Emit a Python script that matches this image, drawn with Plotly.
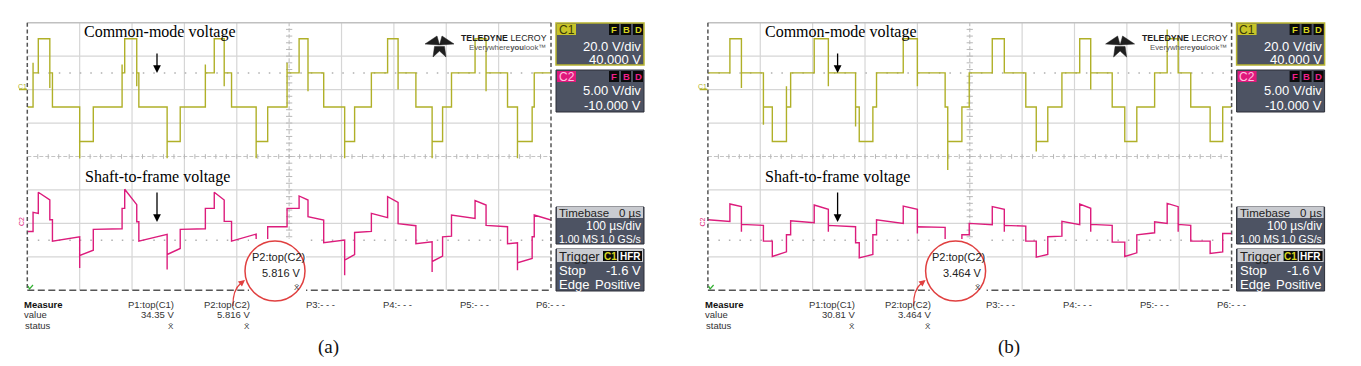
import plotly.graph_objects as go

W, H = 1361, 366

# ---------------- data (time in us, 100 us/div; level in screen divisions, 0=bottom, 8=top) -------------
# (a) common-mode voltage C1
cm_a_t = [0, 11, 21, 43, 48, 100, 126, 181, 186, 209, 213, 267, 292, 340, 357, 376, 390, 437, 459, 496,
          519, 536, 566, 606, 625, 657, 688, 708, 742, 773, 793, 810, 855, 876, 917, 936, 964, 968]
cm_a_v = [5.48, 6.5, 7.52, 6.5, 5.48, 4.45, 5.48, 6.5, 7.52, 6.5, 5.48, 4.45, 5.48, 6.5, 7.52, 6.5, 5.48, 4.45, 5.48, 6.5,
          7.52, 6.5, 5.48, 4.45, 5.48, 6.5, 7.52, 6.5, 5.48, 4.45, 5.48, 6.5, 7.52, 6.5, 5.48, 4.45, 5.48, 6.5]
cm_a_spk = [None, 6.8, None, 6.05, None, 3.95, None, 6.75, None, 6.1, None, 3.95, None, 6.75, None, 6.1, None, 3.95, None, 6.8,
            None, 5.95, None, 3.95, None, None, None, 6.0, None, 3.95, None, None, None, 5.95, None, 3.95, None, None]
# (a) shaft-to-frame voltage C2 : level at start / end of each interval
sv_a_t = cm_a_t
sv_a_v0 = [1.76, 2.33, 2.93, 2.11, 1.47, 1.04, 1.82, 2.45, 3.02, 2.05, 1.47, 1.07, 1.82, 2.45, 2.93, 2.06, 1.47, 1.08, 1.90, 2.45,
           2.82, 2.20, 1.42, 0.90, 1.73, 2.30, 2.80, 1.99, 1.39, 0.86, 1.60, 2.25, 2.68, 1.94, 1.39, 0.82, 1.60, 2.25]
sv_a_v1 = [1.76, 2.30, 2.70, 2.11, 1.60, 1.20, 1.84, 2.45, 2.56, 2.05, 1.67, 1.25, 1.84, 2.45, 2.70, 2.06, 1.68, 1.20, 1.90, 2.45,
           2.70, 2.10, 1.50, 1.07, 1.76, 2.17, 2.63, 1.93, 1.45, 1.02, 1.62, 2.15, 2.55, 1.90, 1.42, 0.95, 1.60, 2.10]
sv_a_spk = [None, None, None, None, None, 0.67, None, None, None, None, None, 0.62, None, None, None, None, None, 0.6, None, None,
            None, None, None, 0.45, None, None, None, None, None, 0.55, None, None, None, None, None, 0.6, None, None]

# (b) common-mode voltage C1
cm_b_t = [0, 42, 64, 106, 123, 150, 158, 203, 230, 282, 289, 315, 322, 373, 400, 453, 458, 485, 499, 543,
          566, 607, 627, 649, 676, 710, 731, 772, 796, 819, 853, 877, 898, 922, 959, 983]
cm_b_v = [6.5, 7.52, 6.5, 5.48, 4.45, 5.48, 6.5, 7.52, 6.5, 5.48, 4.45, 5.48, 6.5, 7.52, 6.5, 5.48, 4.45, 5.48, 6.5, 7.52,
          6.5, 5.48, 4.45, 5.48, 6.5, 7.52, 6.5, 5.48, 4.45, 5.48, 6.5, 7.52, 6.5, 5.48, 4.45, 5.48]
cm_b_spk = [None, None, 6.05, 4.95, None, 6.1, None, None, 6.1, 4.9, None, None, None, None, 6.1, None, 3.6, None, None, None,
            None, None, 4.15, None, None, None, 6.0, None, None, None, None, 7.8, None, None, None, None]
# (b) shaft-to-frame voltage C2
sv_b_t = cm_b_t
sv_b_v0 = [2.11, 2.58, 1.97, 1.47, 1.01, 1.66, 2.08, 2.55, 1.94, 1.42, 0.97, 1.66, 2.11, 2.52, 1.90, 1.42, 0.97, 1.66, 2.00, 2.50,
           1.94, 1.47, 0.99, 1.60, 2.06, 2.58, 1.97, 1.44, 1.01, 1.66, 2.05, 2.60, 1.97, 1.47, 1.10, 1.70]
sv_b_v1 = [2.06, 2.50, 1.94, 1.47, 1.15, 1.66, 2.02, 2.42, 1.90, 1.42, 1.07, 1.66, 2.00, 2.42, 1.88, 1.42, 1.07, 1.66, 1.96, 2.42,
           1.92, 1.47, 1.07, 1.62, 1.96, 2.45, 1.94, 1.44, 1.12, 1.72, 2.00, 2.50, 1.94, 1.47, 1.15, 1.70]
sv_b_spk = [None, None, 1.75, None, None, None, None, None, 1.75, None, None, None, None, None, 1.7, None, None, None, None, None,
            1.75, None, None, None, None, None, 1.75, None, None, None, None, None, 1.75, None, None, None]

# readouts
panel_tags = ["(a)", "(b)"]
p1_values = ["34.35 V", "30.81 V"]
p2_values = ["5.816 V", "3.464 V"]
circle_values = ["5.816 V", "3.464 V"]

C1_COL = "#b0b028"
C2_COL = "#dc1c7c"
SANS = "Liberation Sans, Arial, sans-serif"
SERIF = "Liberation Serif, Times New Roman, serif"


def build(t, v0, v1, spk, t_end=1000):
    xs, ys = [], []
    for i in range(len(t)):
        if i > 0:
            xs.append(t[i]); ys.append(v1[i - 1])
            if spk[i] is not None:
                xs.append(t[i]); ys.append(spk[i])
        xs.append(t[i]); ys.append(v0[i])
    xs.append(t_end); ys.append(v1[-1])
    return xs, ys


def X(px):
    return px / W


def Y(py):
    return 1 - py / H


fig = go.Figure()
shapes, ann = [], []

GX0, GX1, GY0, GY1 = 27.3, 551.0, 22.7, 290.3
DX = 680.6

panels = [
    dict(xa="x", ya="y", cm=(cm_a_t, cm_a_v, cm_a_v, cm_a_spk), sv=(sv_a_t, sv_a_v0, sv_a_v1, sv_a_spk)),
    dict(xa="x2", ya="y2", cm=(cm_b_t, cm_b_v, cm_b_v, cm_b_spk), sv=(sv_b_t, sv_b_v0, sv_b_v1, sv_b_spk)),
]

for k, p in enumerate(panels):
    off = k * DX
    xr, yr = p["xa"], p["ya"]
    # grid lines
    for i in range(1, 10):
        if i == 5:
            continue
        shapes.append(dict(type="line", xref=xr, yref=yr, x0=i * 100, x1=i * 100, y0=0, y1=8,
                           line=dict(color="#d6d6d6", width=1.2), layer="below"))
    for j in range(1, 8):
        if j == 4:
            continue
        shapes.append(dict(type="line", xref=xr, yref=yr, x0=0, x1=1000, y0=j, y1=j,
                           line=dict(color="#d6d6d6", width=1.2), layer="below"))
    # center lines with ticks
    shapes.append(dict(type="line", xref=xr, yref=yr, x0=500, x1=500, y0=0, y1=8,
                       line=dict(color="#c4c4c4", width=1.2, dash="4px,2px"), layer="below"))
    shapes.append(dict(type="line", xref=xr, yref=yr, x0=0, x1=1000, y0=4, y1=4,
                       line=dict(color="#c4c4c4", width=1.2, dash="4px,2px"), layer="below"))
    path = ""
    for i in range(1, 50):
        tt = i * 20
        path += f"M{tt},3.93 L{tt},4.07 "
    for j in range(1, 40):
        yy = j * 0.2
        path += f"M494,{yy:.2f} L506,{yy:.2f} "
    shapes.append(dict(type="path", xref=xr, yref=yr, path=path, line=dict(color="#b8b8b8", width=1), layer="below"))
    # dotted reference lines
    for yy in (6.5, 1.5):
        shapes.append(dict(type="line", xref=xr, yref=yr, x0=0, x1=1000, y0=yy, y1=yy,
                           line=dict(color="#b0b0b0", width=1.5, dash="1.5px,9px"), layer="below"))
    # borders
    shapes.append(dict(type="line", xref="paper", yref="paper", x0=X(GX0 + off), x1=X(GX1 + off), y0=Y(GY0), y1=Y(GY0),
                       line=dict(color="#c0c0c0", width=1.5)))
    shapes.append(dict(type="line", xref="paper", yref="paper", x0=X(GX0 + off), x1=X(GX1 + off), y0=Y(GY1), y1=Y(GY1),
                       line=dict(color="#555555", width=1.5, dash="7px,3.5px")))
    for gx in (GX0, GX1):
        shapes.append(dict(type="line", xref="paper", yref="paper", x0=X(gx + off), x1=X(gx + off), y0=Y(GY0), y1=Y(GY1),
                           line=dict(color="#555555", width=1.5, dash="4px,2.7px")))

    # traces
    cx, cy = build(*p["cm"])
    sx, sy = build(*p["sv"])
    fig.add_trace(go.Scatter(x=cx, y=cy, mode="lines", line=dict(color=C1_COL, width=1.4),
                             xaxis=xr, yaxis=yr, hoverinfo="skip", showlegend=False))
    fig.add_trace(go.Scatter(x=sx, y=sy, mode="lines", line=dict(color=C2_COL, width=1.4),
                             xaxis=xr, yaxis=yr, hoverinfo="skip", showlegend=False))

    # channel markers at left of grid
    ann.append(dict(x=X(22 + off), y=Y(86), text="C1", font=dict(size=7, color=C1_COL, family=SANS)))
    shapes.append(dict(type="line", xref="paper", yref="paper", x0=X(19 + off), x1=X(27 + off), y0=Y(89.5), y1=Y(89.5),
                       line=dict(color=C1_COL, width=1.5)))
    ann.append(dict(x=X(21 + off), y=Y(222), text="C2", textangle=-90, font=dict(size=7, color=C2_COL, family=SANS)))
    # trigger marker
    shapes.append(dict(type="path", xref="paper", yref="paper",
                       path=f"M{X(285.5+off)},{Y(294)} L{X(292.5+off)},{Y(294)} L{X(289+off)},{Y(289)} Z",
                       fillcolor="#c8c020", line=dict(color="#c8c020", width=1)))
    shapes.append(dict(type="path", xref="paper", yref="paper",
                       path=f"M{X(28+off)},{Y(286)} L{X(29.5+off)},{Y(289)} L{X(33+off)},{Y(285)}",
                       line=dict(color="#30b030", width=1.2)))

    # annotations text on plot
    ann.append(dict(x=X(160 + off), y=Y(32), text="Common-mode voltage", font=dict(size=16, color="#000", family=SERIF)))
    ann.append(dict(x=X(157 + off), y=Y(73), ax=0, ay=-21, text="",
                    showarrow=True, arrowhead=2, arrowsize=1.2, arrowwidth=1.3, arrowcolor="#000"))
    ann.append(dict(x=X(157 + off), y=Y(177), text="Shaft-to-frame voltage", font=dict(size=16, color="#000", family=SERIF)))
    ann.append(dict(x=X(157 + off), y=Y(222), ax=0, ay=-31, text="",
                    showarrow=True, arrowhead=2, arrowsize=1.2, arrowwidth=1.3, arrowcolor="#000"))

    # logo
    lx = 425 + off
    logo = (f"M{X(lx)},{Y(44)} L{X(lx+12)},{Y(36)} L{X(lx+14.5)},{Y(45)} Z "
            f"M{X(lx+29)},{Y(44)} L{X(lx+17)},{Y(36)} L{X(lx+14.5)},{Y(45)} Z "
            f"M{X(lx+9.5)},{Y(46.5)} L{X(lx+19.5)},{Y(46.5)} L{X(lx+21)},{Y(57)} L{X(lx+14.5)},{Y(51)} L{X(lx+8)},{Y(57)} Z")
    shapes.append(dict(type="path", xref="paper", yref="paper", path=logo, fillcolor="#1e1e1e",
                       line=dict(color="#1e1e1e", width=0.5)))
    ann.append(dict(x=X(549 + off), y=Y(38), xanchor="right", text="<b>TELEDYNE</b> LECROY",
                    font=dict(size=8.8, color="#1e1e1e", family=SANS)))
    ann.append(dict(x=X(548 + off), y=Y(47.5), xanchor="right", text="Everywhere<b>you</b>look\u2122",
                    font=dict(size=7.8, color="#555", family=SANS)))

    # measurement label (white backing hides trace), circle and text
    shapes.append(dict(type="rect", xref="paper", yref="paper", x0=X(249 + off), x1=X(306 + off),
                       y0=Y(297), y1=Y(239), fillcolor="white", line=dict(width=0)))
    shapes.append(dict(type="circle", xref="paper", yref="paper", x0=X(245 + off), x1=X(305 + off),
                       y0=Y(301), y1=Y(241), line=dict(color="#e04040", width=1.5)))
    ann.append(dict(x=X(278 + off), y=Y(257), text="P2:top(C2)", font=dict(size=11, color="#222", family=SANS)))
    ann.append(dict(x=X(303 + off), y=Y(273), xanchor="right", text=circle_values[k], font=dict(size=11, color="#222", family=SANS)))
    ann.append(dict(x=X(297 + off), y=Y(287), text="X\u0304", font=dict(size=8, color="#333", family=SANS)))
    shapes.append(dict(type="path", xref="paper", yref="paper",
                       path=f"M{X(233+off)},{Y(306)} Q{X(232.5+off)},{Y(290)} {X(241+off)},{Y(283)}",
                       line=dict(color="#e04040", width=1.3)))
    ann.append(dict(x=X(245 + off), y=Y(280), ax=-5, ay=4, text="",
                    showarrow=True, arrowhead=2, arrowsize=1, arrowwidth=1.3, arrowcolor="#e04040"))

    # ---------- info boxes on the right ----------
    bx0, bx1 = 556 + off, 644 + off

    def box(y0, y1, border="#2c2f38", bw=1):
        shapes.append(dict(type="rect", xref="paper", yref="paper", x0=X(bx0), x1=X(bx1), y0=Y(y1), y1=Y(y0),
                           fillcolor="#4d5363", line=dict(color=border, width=bw)))
    box(23, 65, border="#b8b430", bw=1.5)
    box(70, 112)
    box(207, 244)
    box(249, 291)
    # header strips
    for (h0, h1) in ((207, 218), (249, 262)):
        shapes.append(dict(type="rect", xref="paper", yref="paper", x0=X(bx0 + 1), x1=X(bx1 - 1), y0=Y(h1), y1=Y(h0),
                           fillcolor="#c9cbd0", line=dict(width=0)))
    # channel label chips
    shapes.append(dict(type="rect", xref="paper", yref="paper", x0=X(bx0 + 1), x1=X(bx0 + 20), y0=Y(35), y1=Y(24),
                       fillcolor="#c8c428", line=dict(width=0)))
    shapes.append(dict(type="rect", xref="paper", yref="paper", x0=X(bx0 + 1), x1=X(bx0 + 20), y0=Y(82), y1=Y(71),
                       fillcolor="#e0187c", line=dict(width=0)))
    ann.append(dict(x=X(bx0 + 10.5), y=Y(29.5), text="C1", font=dict(size=12, color="#3a3a08", family=SANS)))
    ann.append(dict(x=X(bx0 + 10.5), y=Y(76.5), text="C2", font=dict(size=12, color="#ffc0e0", family=SANS)))
    for yy, col in ((29.5, "#d8d420"), (76.5, "#f0208a")):
        for n, letter in enumerate("FBD"):
            cxp = bx0 + 58 + n * 12
            shapes.append(dict(type="rect", xref="paper", yref="paper", x0=X(cxp - 5), x1=X(cxp + 5),
                               y0=Y(yy + 5.5), y1=Y(yy - 5.5), fillcolor="#0a0a0a", line=dict(width=0)))
            ann.append(dict(x=X(cxp), y=Y(yy), text=f"<b>{letter}</b>", font=dict(size=9.5, color=col, family=SANS)))
    ann.append(dict(x=X(bx1 - 1), y=Y(46), xanchor="right", text="20.0 V/div", font=dict(size=13, color="#fff", family=SANS)))
    ann.append(dict(x=X(bx1 - 1), y=Y(59.5), xanchor="right", text="40.000 V", font=dict(size=13, color="#fff", family=SANS)))
    ann.append(dict(x=X(bx1 - 1), y=Y(91), xanchor="right", text="5.00 V/div", font=dict(size=13, color="#fff", family=SANS)))
    ann.append(dict(x=X(bx1 - 1), y=Y(105), xanchor="right", text="-10.000 V", font=dict(size=13, color="#fff", family=SANS)))
    # timebase
    ann.append(dict(x=X(bx0 + 1), y=Y(212.5), xanchor="left", text="Timebase", font=dict(size=11.5, color="#222", family=SANS)))
    ann.append(dict(x=X(bx1 - 1), y=Y(212.5), xanchor="right", text="0 µs", font=dict(size=11.5, color="#222", family=SANS)))
    ann.append(dict(x=X(bx1 - 1), y=Y(226), xanchor="right", text="100 µs/div", font=dict(size=12, color="#fff", family=SANS)))
    ann.append(dict(x=X(bx0 + 1), y=Y(238.5), xanchor="left", text="1.00 MS", font=dict(size=10.5, color="#fff", family=SANS)))
    ann.append(dict(x=X(bx1 - 1), y=Y(238.5), xanchor="right", text="1.0 GS/s", font=dict(size=10.5, color="#fff", family=SANS)))
    # trigger
    ann.append(dict(x=X(bx0 + 1), y=Y(256), xanchor="left", text="Trigger", font=dict(size=13, color="#222", family=SANS)))
    shapes.append(dict(type="rect", xref="paper", yref="paper", x0=X(bx0 + 47), x1=X(bx0 + 61), y0=Y(261), y1=Y(251),
                       fillcolor="#0a0a0a", line=dict(width=0)))
    shapes.append(dict(type="rect", xref="paper", yref="paper", x0=X(bx0 + 62.5), x1=X(bx0 + 86), y0=Y(261), y1=Y(251),
                       fillcolor="#0a0a0a", line=dict(width=0)))
    ann.append(dict(x=X(bx0 + 54), y=Y(256), text="<b>C1</b>", font=dict(size=10, color="#d8d420", family=SANS)))
    ann.append(dict(x=X(bx0 + 74.2), y=Y(256), text="<b>HFR</b>", font=dict(size=10, color="#ffffff", family=SANS)))
    ann.append(dict(x=X(bx0 + 1), y=Y(270.5), xanchor="left", text="Stop", font=dict(size=13, color="#fff", family=SANS)))
    ann.append(dict(x=X(bx1 - 1), y=Y(270.5), xanchor="right", text="-1.6 V", font=dict(size=13, color="#fff", family=SANS)))
    ann.append(dict(x=X(bx0 + 1), y=Y(284), xanchor="left", text="Edge", font=dict(size=13, color="#fff", family=SANS)))
    ann.append(dict(x=X(bx1 - 1), y=Y(284), xanchor="right", text="Positive", font=dict(size=13, color="#fff", family=SANS)))

    # ---------- measure table ----------
    mf = dict(size=9.5, color="#333", family=SANS)
    ann.append(dict(x=X(22 + off), y=Y(304), xanchor="left", text="<b>Measure</b>", font=dict(mf, color="#111")))
    ann.append(dict(x=X(22 + off), y=Y(314.5), xanchor="left", text="value", font=mf))
    ann.append(dict(x=X(23 + off), y=Y(325), xanchor="left", text="status", font=mf))
    ann.append(dict(x=X(176 + off), y=Y(304), xanchor="right", text="P1:top(C1)", font=mf))
    ann.append(dict(x=X(176 + off), y=Y(314.5), xanchor="right", text=p1_values[k], font=mf))
    ann.append(dict(x=X(171 + off), y=Y(326), text="X\u0304", font=dict(size=8, color="#333", family=SANS)))
    ann.append(dict(x=X(252 + off), y=Y(304), xanchor="right", text="P2:top(C2)", font=mf))
    ann.append(dict(x=X(252 + off), y=Y(314.5), xanchor="right", text=p2_values[k], font=mf))
    ann.append(dict(x=X(247 + off), y=Y(326), text="X\u0304", font=dict(size=8, color="#333", family=SANS)))
    for lbl, px_ in (("P3:- - -", 303.5), ("P4:- - -", 380.7), ("P5:- - -", 457.5), ("P6:- - -", 534)):
        ann.append(dict(x=X(px_ + off), y=Y(304), xanchor="left", text=lbl, font=mf))
    ann.append(dict(x=X(328 + off), y=Y(347), text=panel_tags[k], font=dict(size=19, color="#111", family=SERIF)))

for a in ann:
    a.setdefault("xref", "paper")
    a.setdefault("yref", "paper")
    a.setdefault("showarrow", False)
    a.setdefault("xanchor", "center")
    a.setdefault("yanchor", "middle")

dom_y = [Y(GY1), Y(GY0)]
fig.update_layout(
    width=W, height=H, margin=dict(l=0, r=0, t=0, b=0),
    paper_bgcolor="white", plot_bgcolor="white", showlegend=False,
    xaxis=dict(domain=[X(GX0), X(GX1)], range=[0, 1000], visible=False, fixedrange=True),
    yaxis=dict(domain=dom_y, range=[0, 8], visible=False, fixedrange=True, anchor="x"),
    xaxis2=dict(domain=[X(GX0 + DX), X(GX1 + DX)], range=[0, 1000], visible=False, fixedrange=True, anchor="y2"),
    yaxis2=dict(domain=dom_y, range=[0, 8], visible=False, fixedrange=True, anchor="x2"),
    shapes=shapes, annotations=ann,
)

fig.write_html("out.html", config={"displayModeBar": False, "staticPlot": True},
               post_script="document.body.style.margin='0';document.body.style.overflow='hidden';")
